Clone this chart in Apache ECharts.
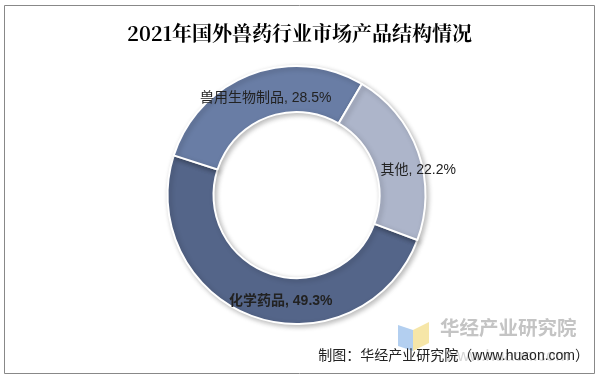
<!DOCTYPE html>
<html>
<head>
<meta charset="utf-8">
<script src="https://cdn.jsdelivr.net/npm/echarts@6/dist/echarts.min.js"></script>
<style>
html,body{margin:0;padding:0;background:#fff;}
#c{width:599px;height:379px;}
</style>
</head>
<body>
<div id="c"></div>
<script>
var titleText = '2021年国外兽药行业市场产品结构情况';
var categories = ['化学药品', '兽用生物制品', '其他'];
var values = [49.3, 28.5, 22.2];
var colors = ['#546589', '#697da5', '#adb5ca'];
var labelOffsets = [[20, 3], [8, 5], [19, 12]];
var footerText = '制图：华经产业研究院（www.huaon.com）';

var chart = echarts.init(document.getElementById('c'), null, {renderer: 'canvas'});
var data = categories.map(function (name, i) {
  return {
    name: name,
    value: values[i],
    itemStyle: {color: colors[i]},
    label: {
      offset: labelOffsets[i],
      fontWeight: i === 0 ? 'bold' : 'normal'
    }
  };
});

chart.setOption({
  backgroundColor: '#fff',
  animation: false,
  title: {
    text: titleText,
    left: 'center',
    top: 18,
    textStyle: {
      fontFamily: '"Noto Serif CJK SC", "DejaVu Serif", serif',
      fontSize: 20,
      fontWeight: 'bold',
      color: '#000'
    }
  },
  series: [{
    type: 'pie',
    center: [296.5, 195],
    radius: [83, 129],
    startAngle: -20.4,
    clockwise: true,
    avoidLabelOverlap: false,
    itemStyle: {
      borderColor: '#fff',
      borderWidth: 2,
      shadowBlur: 5,
      shadowColor: 'rgba(0,0,0,0.25)',
      shadowOffsetX: 2,
      shadowOffsetY: 2
    },
    label: {
      show: true,
      position: 'inside',
      color: '#222',
      fontSize: 14,
      fontFamily: '"Liberation Sans", "Noto Sans CJK SC", sans-serif',
      formatter: function (p) { return p.name + ', ' + p.value + '%'; }
    },
    labelLine: {show: false},
    emphasis: {disabled: true},
    data: data
  }],
  graphic: [
    {
      type: 'rect',
      shape: {x: 4.5, y: 5.5, width: 590, height: 368},
      style: {fill: 'none', stroke: '#888', lineWidth: 1},
      silent: true
    },
    {
      type: 'polygon',
      shape: {points: [[398, 325], [413, 330], [413, 351], [398, 346]]},
      style: {fill: '#b3cff0'},
      silent: true
    },
    {
      type: 'polygon',
      shape: {points: [[413, 330], [429, 322], [429, 343], [413, 351]]},
      style: {fill: '#f6e6a8'},
      silent: true
    },
    {
      type: 'text',
      x: 440, y: 328,
      style: {
        text: '华经产业研究院',
        fontFamily: '"Noto Sans CJK SC", sans-serif',
        fontSize: 19.5,
        fontWeight: 'bold',
        fill: '#c4c4c4',
        verticalAlign: 'middle'
      },
      silent: true
    },
    {
      type: 'text',
      x: 445, y: 356,
      style: {
        text: 'www.huaon.com',
        fontFamily: '"Liberation Sans", sans-serif',
        fontSize: 17,
        fill: '#d6d6d6',
        verticalAlign: 'middle'
      },
      silent: true
    },
    {
      type: 'text',
      right: 10, y: 356,
      style: {
        text: footerText,
        fontFamily: '"Liberation Sans", "Noto Sans CJK SC", sans-serif',
        fontSize: 14,
        fill: '#222',
        verticalAlign: 'middle'
      },
      silent: true
    }
  ]
});
</script>
</body>
</html>
